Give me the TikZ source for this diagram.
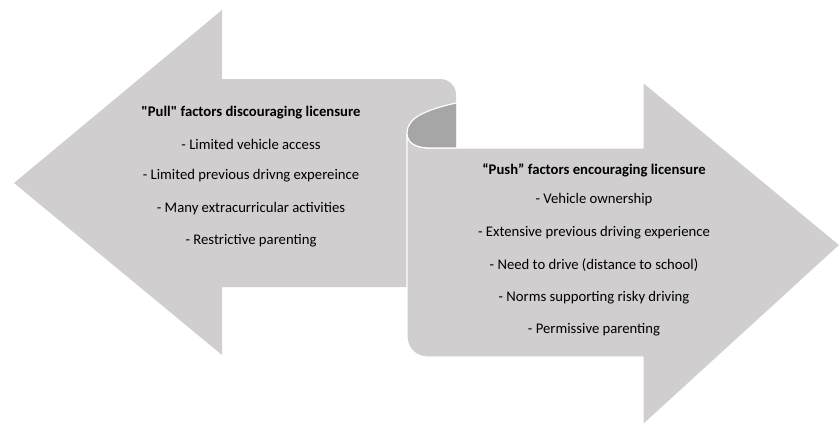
\documentclass[tikz,border=0pt]{standalone}
\usepackage{fontspec}
\setmainfont{Carlito}[Ligatures=TeXOff]
\definecolor{sheet}{HTML}{D0CECE}
\definecolor{curl}{HTML}{A7A6A6}
\tikzset{
  item/.style={inner sep=0pt,text=black},
  title/.style={item,font=\fontsize{14.7}{16}\selectfont\bfseries},
}
\begin{document}
\begin{tikzpicture}[x=1pt,y=-1pt,line cap=round,line join=round,font=\fontsize{14.7}{16}\selectfont]
	\useasboundingbox (0,0) rectangle (840,426);
	% left arrow with the top of the scroll
	\fill[sheet] (14,183) -- (222,10) -- (222,79) -- (440,79) .. controls (449,79) and (456,86) .. (456,95) -- (456,287) -- (222,287) -- (222,355) -- cycle;
	% right arrow, front of the scroll
	\filldraw[fill=sheet,draw=white,line width=1.2] (407,133) .. controls (407,142) and (414,148) .. (430,148) -- (643,148) -- (643,82) -- (840,245) -- (643,425) -- (643,357) -- (427,357) .. controls (416,357) and (407,348) .. (407,337) -- cycle;
	% inside of the curl
	\fill[curl] (407,133) .. controls (407,118) and (425,110) .. (456,103) -- (456,148) -- (430,148) .. controls (414,148) and (407,142) .. (407,133) -- cycle;
	\draw[white,line width=1.2] (456,103) .. controls (425,110) and (407,118) .. (407,133) .. controls (407,142) and (414,148) .. (430,148) -- (456,148);
	% texts
	\node[title] (pull0) at (251,113) {"Pull" factors discouraging licensure};
	\node[item] (pull1) at (251,144) {- Limited vehicle access};
	\node[item] (pull2) at (251,176) {- Limited previous drivng expereince};
	\node[item] (pull3) at (251,209) {- Many extracurricular activities};
	\node[item] (pull4) at (251,241) {- Restrictive parenting};
	\node[title] (push0) at (594,170) {“Push” factors encouraging licensure};
	\node[item] (push1) at (594,200) {- Vehicle ownership};
	\node[item] (push2) at (594,233) {- Extensive previous driving experience};
	\node[item] (push3) at (594,265) {- Need to drive (distance to school)};
	\node[item] (push4) at (594,298) {- Norms supporting risky driving};
	\node[item] (push5) at (594,330) {- Permissive parenting};
\end{tikzpicture}
\end{document}
